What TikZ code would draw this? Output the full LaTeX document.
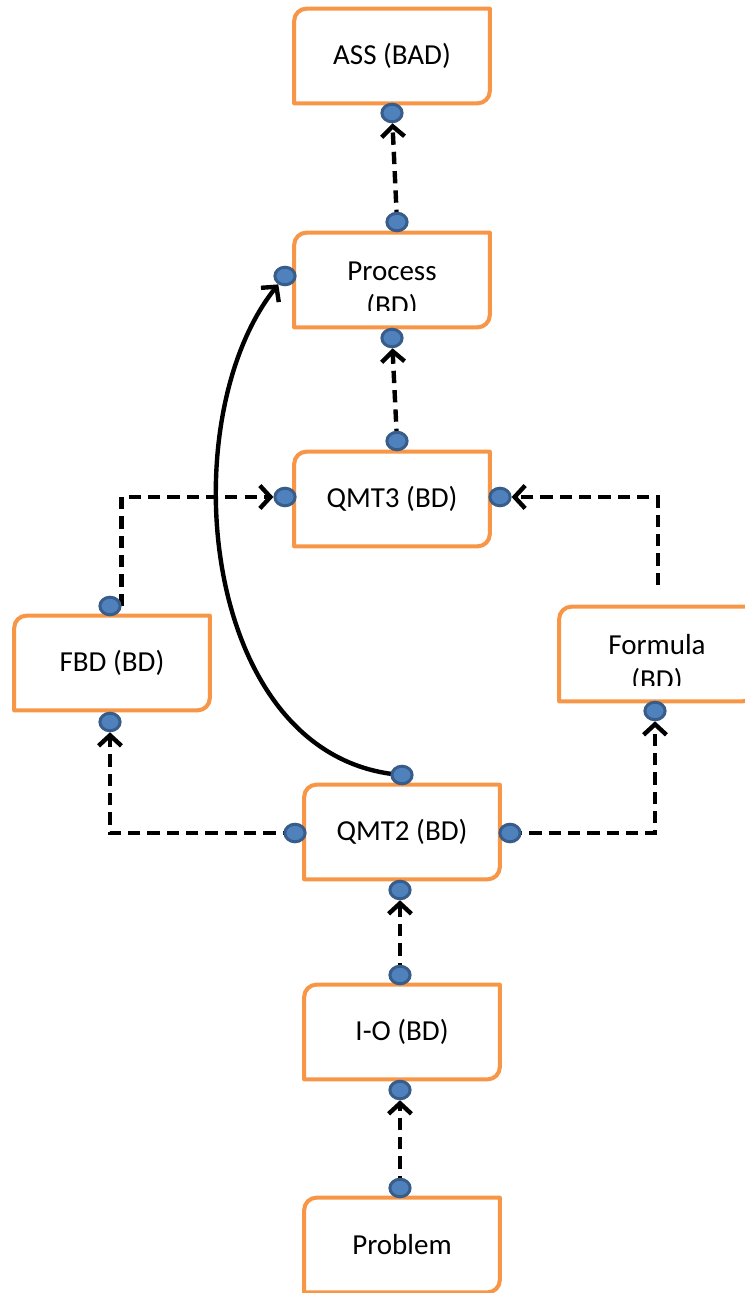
\documentclass[tikz,border=0pt]{standalone}
\usepackage{fontspec}
\setmainfont{Carlito}
\usetikzlibrary{shapes.geometric,arrows.meta,backgrounds}
\definecolor{boxorange}{HTML}{F79646}
\definecolor{dotblue}{HTML}{4F81BD}
\definecolor{dotrim}{HTML}{385D8A}

\begin{document}
\begin{tikzpicture}[x=0.02cm,y=-0.02cm]
\tikzstyle{every node}=[font=\fontsize{16.5}{20}\selectfont]
\tikzstyle{blk}=[rectangle,minimum width=3.9cm,minimum height=1.88cm,inner sep=0pt]
\tikzstyle{boxline}=[draw=boxorange,line width=2.3pt,line join=round]
\tikzstyle{dot}=[ellipse,fill=dotblue,draw=dotrim,line width=1.7pt,minimum width=11.5pt,minimum height=10pt,inner sep=0pt]
\tikzstyle{flow}=[line width=2.5pt,dash pattern=on 7pt off 4pt,-{Straight Barb[length=6pt,width=13pt]}]
\tikzstyle{jump}=[line width=2.5pt,-{Straight Barb[length=6pt,width=13pt]}]
\useasboundingbox (0,0) rectangle (744,1293);
\node[blk] (ass) at (392,56) {ASS (BAD)};
\node[blk] (proc) at (392,280) {};
\node[blk] (qmtthree) at (392,499) {QMT3 (BD)};
\node[blk] (fbd) at (112,663) {FBD (BD)};
\node[blk] (fml) at (657,654) {};
\node[blk] (qmttwo) at (402,832) {QMT2 (BD)};
\node[blk] (io) at (402,1032) {I-O (BD)};
\node[blk] (prob) at (402,1245) {Problem};
\begin{scope}
\clip (295,233) rectangle (490,311);
\node[align=center] (proctext) at (392,291) {Process\\(BD)};
\end{scope}
\begin{scope}
\clip (560,607) rectangle (760,685);
\node[align=center] (fmltext) at (657,664) {Formula\\(BD)};
\end{scope}
\foreach \n in {ass,proc,qmtthree,fbd,fml,qmttwo,io,prob}
  \draw[boxline] (\n.north east) -- ([yshift=7pt]\n.south east) arc[start angle=0,end angle=-90,radius=7pt]
    -- (\n.south west) -- ([yshift=-7pt]\n.north west) arc[start angle=180,end angle=90,radius=7pt] -- cycle;
% connection points
\node[dot] (assS) at (392,113) {};
\node[dot] (procN) at (397,222) {};
\node[dot] (procW) at (285,276) {};
\node[dot] (procS) at (392,338) {};
\node[dot] (qmt3N) at (397,441) {};
\node[dot] (qmt3W) at (285,497) {};
\node[dot] (qmt3E) at (500,497) {};
\node[dot] (fbdN) at (110,606) {};
\node[dot] (fbdS) at (110,722) {};
\node[dot] (fmlS) at (655,711) {};
\node[dot] (qmt2N) at (402,775) {};
\node[dot] (qmt2W) at (295,833) {};
\node[dot] (qmt2E) at (510,833) {};
\node[dot] (qmt2S) at (400,890) {};
\node[dot] (ioN) at (400,975) {};
\node[dot] (ioS) at (400,1090) {};
\node[dot] (probN) at (400,1188) {};
\coordinate (fmlT) at (658,585);
\begin{pgfonlayer}{background}
\draw[flow] (procN.center) -- (assS);
\draw[flow] (qmt3N.center) -- (procS);
\draw[flow] (fbdN.east) |- (qmt3W);
\draw[flow] (fmlT) |- (qmt3E);
\draw[flow] (qmt2W.center) -| (fbdS);
\draw[flow] (qmt2E.center) -| (fmlS);
\draw[flow] (ioN.center) -- (qmt2S);
\draw[flow] (probN.center) -- (ioS);
\draw[jump] (qmt2N.center) .. controls (200,760) and (170,420) .. (procW);
\end{pgfonlayer}
\end{tikzpicture}
\end{document}
